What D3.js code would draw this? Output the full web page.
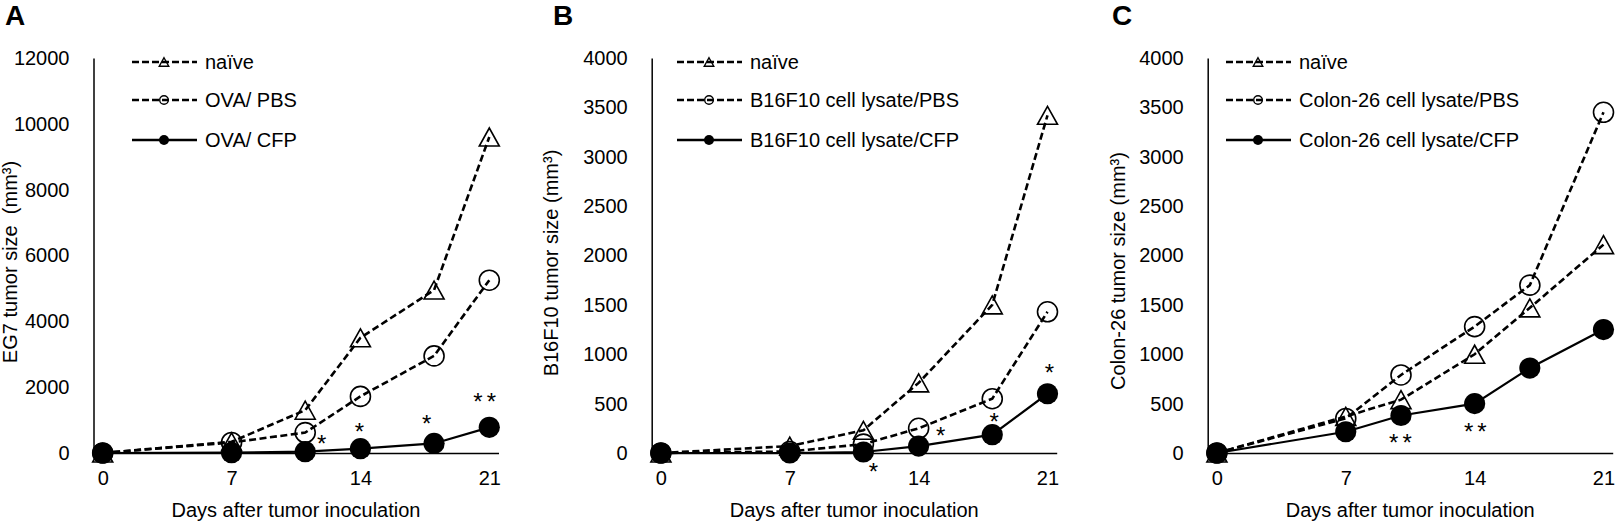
<!DOCTYPE html>
<html>
<head>
<meta charset="utf-8">
<script src="https://cdn.jsdelivr.net/npm/d3@7"></script>
<style>
  html, body { margin: 0; background: #fff; }
  svg { display: block; }
  text { font-family: Arial, "Liberation Sans", sans-serif; fill: #000; }
</style>
</head>
<body>
<svg id="fig" width="1616" height="521"></svg>
<script>
// ---- data ---------------------------------------------------------------
var xTicks = [0, 7, 14, 21];
var xTitle = "Days after tumor inoculation";

// A: EG7
var daysA = [0, 7, 11, 14, 18, 21];
var naiveA = [0, 340, 1300, 3500, 4950, 9600];
var pbsA = [0, 320, 620, 1720, 2950, 5250];
var cfpA = [0, 10, 40, 130, 290, 780];
var yTicksA = [0, 2000, 4000, 6000, 8000, 10000, 12000];
var legendA = ["naïve", "OVA/ PBS", "OVA/ CFP"];
var starDayA = [11.9, 13.95, 17.6, 20.75];
var starValA = [445, 800, 1060, 1730];
var starTxtA = ["*", "*", "*", "**"];

// B: B16F10
var daysB = [0, 7, 11, 14, 18, 21];
var naiveB = [0, 70, 230, 710, 1500, 3420];
var pbsB = [0, 15, 90, 250, 550, 1430];
var cfpB = [0, 0, 10, 70, 186, 600];
var yTicksB = [0, 500, 1000, 1500, 2000, 2500, 3000, 3500, 4000];
var legendB = ["naïve", "B16F10 cell lysate/PBS", "B16F10 cell lysate/CFP"];
var starDayB = [11.55, 15.2, 18.1, 21.1];
var starValB = [-132, 226, 371, 868];
var starTxtB = ["*", "*", "*", "*"];

// C: Colon-26
var daysC = [0, 7, 10, 14, 17, 21];
var naiveC = [0, 370, 540, 1000, 1470, 2110];
var pbsC = [0, 350, 790, 1280, 1700, 3450];
var cfpC = [0, 215, 380, 500, 860, 1250];
var yTicksC = [0, 500, 1000, 1500, 2000, 2500, 3000, 3500, 4000];
var legendC = ["naïve", "Colon-26 cell lysate/PBS", "Colon-26 cell lysate/CFP"];
var starDayC = [9.97, 14.04];
var starValC = [155, 269];
var starTxtC = ["**", "**"];

// ---- layout --------------------------------------------------------------
var TOP = 58, BOT = 453, PW = 405;
var panels = [
  { tag: "A", tagX: 5, axisX: 93.5, legX: 132, yTitle: "EG7 tumor size\u00a0 (mm³)", yTitleX: 10, yTitleY: 262,
    days: daysA, series: [naiveA, pbsA, cfpA], yTicks: yTicksA, legend: legendA,
    stars: [starDayA, starValA, starTxtA] },
  { tag: "B", tagX: 553, axisX: 651.7, legX: 677, yTitle: "B16F10 tumor size (mm³)", yTitleX: 551, yTitleY: 263,
    days: daysB, series: [naiveB, pbsB, cfpB], yTicks: yTicksB, legend: legendB,
    stars: [starDayB, starValB, starTxtB] },
  { tag: "C", tagX: 1112, axisX: 1207.7, legX: 1226, yTitle: "Colon-26 tumor size (mm³)", yTitleX: 1118, yTitleY: 271,
    days: daysC, series: [naiveC, pbsC, cfpC], yTicks: yTicksC, legend: legendC,
    stars: [starDayC, starValC, starTxtC] }
];
// series styles: naive (dashed, open triangle), PBS (dashed, open circle), CFP (solid, filled circle)
var styles = [
  { dash: "7 3.5", width: 2.6, marker: "tri" },
  { dash: "7 3.5", width: 2.6, marker: "open" },
  { dash: null, width: 2.2, marker: "fill" }
];

function triPath(w, h) {
  return "M0," + (-h / 2) + "L" + (w / 2) + "," + (h / 2) + "L" + (-w / 2) + "," + (h / 2) + "Z";
}
function addMarker(g, kind, x, y, big) {
  if (kind === "tri") {
    g.append("path").attr("d", big ? triPath(20, 18) : triPath(9.5, 8.5))
      .attr("transform", "translate(" + x + "," + y + ")")
      .attr("fill", "none").attr("stroke", "#000").attr("stroke-width", big ? 1.6 : 1.4);
  } else if (kind === "open") {
    g.append("circle").attr("cx", x).attr("cy", y).attr("r", big ? 10 : 4.3)
      .attr("fill", "none").attr("stroke", "#000").attr("stroke-width", big ? 1.6 : 1.4);
  } else {
    g.append("circle").attr("cx", x).attr("cy", y).attr("r", big ? 10.6 : 5)
      .attr("fill", "#000");
  }
}

var svg = d3.select("#fig");

panels.forEach(function (p) {
  var g = svg.append("g");
  var x = d3.scaleLinear().domain([-0.5, 21.5]).range([p.axisX, p.axisX + PW]);
  var y = d3.scaleLinear().domain([0, p.yTicks[p.yTicks.length - 1]]).range([BOT, TOP]);

  // panel tag
  g.append("text").attr("x", p.tagX).attr("y", 25)
    .style("font-size", "28px").style("font-weight", "bold").text(p.tag);

  // axes
  var ay = g.append("g").attr("transform", "translate(" + p.axisX + ",0)")
    .call(d3.axisLeft(y).tickValues(p.yTicks).tickFormat(d3.format("d"))
      .tickSize(0).tickSizeOuter(0).tickPadding(24));
  var ax = g.append("g").attr("transform", "translate(0," + y(0) + ")")
    .call(d3.axisBottom(x).tickValues(xTicks).tickFormat(d3.format("d"))
      .tickSize(0).tickSizeOuter(0).tickPadding(18));
  [ax, ay].forEach(function (a) {
    a.select(".domain").attr("stroke", "#000").attr("stroke-width", 1.5);
    a.selectAll("text").attr("fill", "#000")
      .style("font-size", "20px").style("font-family", "Arial, 'Liberation Sans', sans-serif");
  });

  g.append("text").attr("x", p.axisX + PW / 2).attr("y", 517)
    .attr("text-anchor", "middle").style("font-size", "20px").text(xTitle);
  g.append("text")
    .attr("transform", "translate(" + p.yTitleX + "," + p.yTitleY + ") rotate(-90)")
    .attr("text-anchor", "middle").attr("dominant-baseline", "central")
    .style("font-size", "20px").text(p.yTitle);

  // series
  p.series.forEach(function (vals, si) {
    var st = styles[si];
    var pts = p.days.map(function (d, i) { return [x(d), y(vals[i])]; });
    g.append("path").attr("d", d3.line()(pts))
      .attr("fill", "none").attr("stroke", "#000").attr("stroke-width", st.width)
      .attr("stroke-dasharray", st.dash);
    pts.forEach(function (pt) { addMarker(g, st.marker, pt[0], pt[1], true); });
  });

  // significance marks
  var sd = p.stars[0], sv = p.stars[1], stx = p.stars[2];
  sd.forEach(function (d, i) {
    g.append("text").attr("x", x(d)).attr("y", y(sv[i]) + 13.8)
      .attr("text-anchor", "middle").style("font-size", "24px")
      .style("letter-spacing", stx[i].length > 1 ? "4px" : "0px")
      .attr("dx", stx[i].length > 1 ? 2 : 0)
      .text(stx[i]);
  });

  // legend
  var rows = [62, 100, 140];
  p.legend.forEach(function (lab, i) {
    var st = styles[i];
    g.append("line").attr("x1", p.legX).attr("x2", p.legX + 65)
      .attr("y1", rows[i]).attr("y2", rows[i])
      .attr("stroke", "#000").attr("stroke-width", st.dash ? 2.6 : 2.3)
      .attr("stroke-dasharray", st.dash ? "7 3" : null);
    addMarker(g, st.marker, p.legX + 32, rows[i], false);
    g.append("text").attr("x", p.legX + 73).attr("y", rows[i])
      .attr("dy", "0.35em").style("font-size", "20px").text(lab);
  });
});
</script>
</body>
</html>
